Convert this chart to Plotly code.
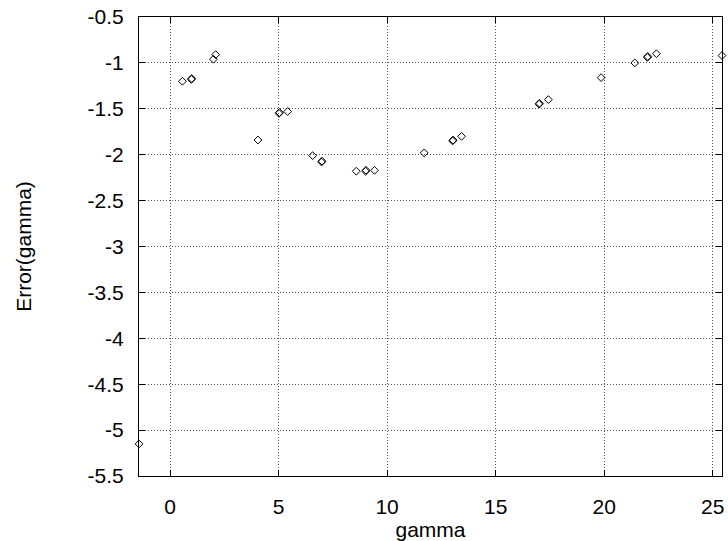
import plotly.graph_objects as go

# Data
gamma = [-1.43, 0.57, 0.98, 1.00, 2.00, 2.10, 4.05, 5.02, 5.04, 5.42,
         6.57, 6.98, 7.00, 8.58, 9.01, 9.03, 9.42, 11.71, 13.02, 13.04,
         13.43, 17.00, 17.02, 17.43, 19.86, 21.41, 21.99, 22.01, 22.41, 25.43]
error = [-5.15, -1.20, -1.18, -1.17, -0.96, -0.91, -1.84, -1.55, -1.54, -1.53,
         -2.01, -2.08, -2.07, -2.18, -2.18, -2.17, -2.17, -1.98, -1.85, -1.84,
         -1.80, -1.45, -1.44, -1.40, -1.16, -1.00, -0.94, -0.93, -0.90, -0.92]

x_ticks = [0, 5, 10, 15, 20, 25]
x_ticklabels = ["0", "5", "10", "15", "20", "25"]
y_ticks = [-0.5, -1, -1.5, -2, -2.5, -3, -3.5, -4, -4.5, -5, -5.5]
y_ticklabels = ["-0.5", "-1", "-1.5", "-2", "-2.5", "-3", "-3.5", "-4", "-4.5", "-5", "-5.5"]

fig = go.Figure()
fig.add_trace(go.Scatter(
    x=gamma, y=error, mode="markers",
    marker=dict(symbol="diamond-open", size=6, color="black", line=dict(width=1, color="black")),
    showlegend=False, cliponaxis=False,
))

font = dict(family="Liberation Sans, Arial, sans-serif", size=21, color="black")

axis_common = dict(
    showline=True, linecolor="black", linewidth=1, mirror="ticks",
    ticks="inside", ticklen=6, tickcolor="black", tickwidth=1,
    showgrid=True, gridcolor="#555555", gridwidth=1, griddash="1px,2px",
    zeroline=False, tickfont=font,
)

fig.update_layout(
    width=728, height=541,
    margin=dict(l=139, r=6, t=17, b=65, autoexpand=False),
    paper_bgcolor="white", plot_bgcolor="white",
    font=font,
    xaxis=dict(range=[-1.43, 25.43], tickvals=x_ticks, ticktext=x_ticklabels,
               title=dict(text="gamma", font=font, standoff=2), automargin=False,
               ticklabelstandoff=12, **axis_common),
    yaxis=dict(range=[-5.5, -0.5], tickvals=y_ticks, ticktext=y_ticklabels,
               title=dict(text="Error(gamma)", font=font, standoff=50), automargin=False,
               ticklabelstandoff=10, **axis_common),
)

fig.write_html("out.html")
